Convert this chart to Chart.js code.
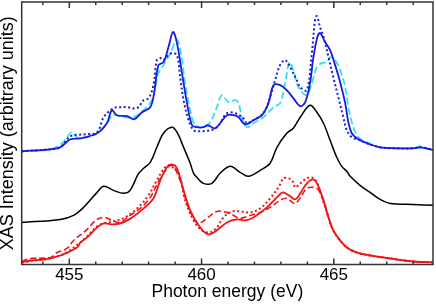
<!DOCTYPE html>
<html>
<head>
<meta charset="utf-8">
<script src="https://cdn.jsdelivr.net/npm/chart.js@4"></script>
<style>
  html, body { margin: 0; padding: 0; background: #fff; }
  #xasChart { display: block; }
</style>
</head>
<body>
<canvas id="xasChart" width="436" height="304"></canvas>
<script>
// photon energy (eV) and intensity (arb. units, offset per spectrum)
const blueSolidE = [453.2, 454.28, 454.66, 455.04, 455.42, 456.05, 456.42, 456.61, 456.8, 457.18, 457.46, 457.75, 458.06, 458.2, 458.37, 458.56, 458.75, 458.92, 459.07, 459.26, 459.45, 459.64, 459.82, 460.07, 460.22, 460.39, 460.52, 460.7, 460.96, 461.21, 461.4, 461.58, 461.71, 461.96, 462.28, 462.53, 462.72, 462.97, 463.22, 463.47, 463.73, 463.92, 464.1, 464.23, 464.38, 464.48, 464.67, 464.86, 465.05, 465.24, 465.43, 465.55, 465.68, 465.87, 466.25, 466.75, 467.38, 468.0, 468.26, 468.5, 468.8];
const blueSolidI = [113, 115, 117, 125, 126, 131, 141, 154, 149, 148, 145, 152, 157, 170, 199, 202, 217, 232, 221, 191, 161, 139, 137, 137, 139, 137, 136, 141, 149, 149, 147, 141, 140, 144, 149, 161, 179, 179, 174, 166, 158, 162, 181, 207, 227, 231, 222, 214, 199, 182, 161, 142, 131, 126, 121, 117, 116, 116, 117, 116, 114];

const blueDotE = [453.2, 454.28, 454.66, 455.04, 455.6, 456.05, 456.3, 456.67, 456.93, 457.18, 457.56, 457.81, 458.0, 458.18, 458.31, 458.44, 458.56, 458.75, 458.88, 459.07, 459.19, 459.32, 459.51, 459.7, 459.95, 460.33, 460.52, 460.7, 460.96, 461.27, 461.58, 461.71, 461.96, 462.34, 462.59, 462.78, 462.97, 463.16, 463.35, 463.6, 463.73, 463.98, 464.17, 464.29, 464.36, 464.48, 464.61, 464.8, 464.98, 465.17, 465.36, 465.49, 465.68, 465.99, 466.25, 466.75, 467.38, 468.0, 468.26, 468.5, 468.8];
const blueDotI = [113, 115, 117, 128, 130, 132, 147, 156, 157, 157, 156, 164, 166, 179, 204, 206, 204, 209, 211, 209, 187, 164, 144, 134, 133, 134, 136, 141, 151, 151, 146, 141, 144, 151, 167, 184, 199, 204, 197, 184, 177, 174, 211, 244, 248, 237, 227, 207, 187, 167, 147, 134, 127, 124, 121, 117, 116, 116, 117, 116, 114];

const cyanDashE = [453.2, 454.28, 454.78, 455.08, 455.29, 455.67, 456.05, 456.42, 456.67, 457.05, 457.43, 457.81, 458.12, 458.25, 458.37, 458.56, 458.82, 459.07, 459.22, 459.38, 459.57, 459.76, 460.07, 460.33, 460.58, 460.77, 461.02, 461.27, 461.4, 461.52, 461.71, 461.96, 462.34, 462.72, 462.97, 463.16, 463.32, 463.47, 463.6, 463.73, 463.98, 464.17, 464.36, 464.55, 464.74, 464.86, 465.05, 465.24, 465.43, 465.55, 465.74, 465.93, 466.25, 466.75, 467.38, 468.0, 468.26, 468.5, 468.8];
const cyanDashI = [113, 115, 122, 132, 127, 127, 131, 141, 149, 147, 147, 154, 164, 177, 191, 199, 211, 224, 211, 181, 154, 139, 137, 142, 157, 169, 162, 164, 161, 147, 137, 141, 147, 157, 161, 181, 202, 194, 181, 174, 169, 181, 197, 201, 202, 207, 204, 194, 177, 157, 137, 127, 122, 117, 116, 116, 118, 116, 114];

const blackE = [453.2, 454.66, 455.16, 455.54, 456.05, 456.3, 456.67, 457.05, 457.3, 457.6, 457.81, 458.06, 458.31, 458.56, 458.88, 459.07, 459.32, 459.57, 459.7, 459.82, 460.07, 460.39, 460.7, 461.08, 461.46, 461.77, 462.22, 462.59, 462.85, 463.22, 463.47, 463.73, 464.1, 464.36, 464.61, 464.86, 465.11, 465.3, 465.49, 465.62, 465.99, 466.37, 466.75, 467.13, 468.01, 468.8];
const blackI = [42, 45, 49, 57, 72, 78, 74, 71, 74, 90, 96, 102, 117, 131, 137, 132, 117, 101, 91, 87, 81, 81, 91, 98, 92, 88, 94, 101, 117, 131, 136, 147, 159, 152, 141, 124, 107, 98, 93, 88, 79, 72, 65, 61, 60, 59];

const redSolidE = [453.2, 453.53, 454.03, 454.66, 455.29, 455.42, 455.67, 456.05, 456.3, 456.67, 457.05, 457.43, 457.81, 458.18, 458.44, 458.69, 458.88, 459.07, 459.32, 459.57, 459.95, 460.26, 460.52, 460.96, 461.34, 461.65, 461.96, 462.47, 462.85, 463.07, 463.3, 463.54, 463.73, 463.98, 464.23, 464.4, 464.61, 464.8, 464.98, 465.24, 465.49, 465.87, 466.37, 467.13, 468.01, 468.8];
const redSolidI = [2, 4, 5, 9, 17, 22, 27, 37, 41, 40, 42, 48, 56, 66, 84, 97, 100, 96, 74, 54, 37, 30, 33, 42, 45, 44, 47, 57, 67, 72, 69, 65, 71, 81, 85, 79, 64, 47, 34, 24, 17, 12, 9, 6, 3, 2];

const redDashE = [453.2, 453.53, 454.28, 454.54, 454.91, 455.16, 455.54, 455.67, 456.05, 456.36, 456.61, 456.93, 457.3, 457.68, 458.06, 458.44, 458.86, 459.19, 459.45, 459.7, 459.88, 460.2, 460.58, 460.96, 461.21, 461.46, 461.84, 462.22, 462.59, 462.97, 463.22, 463.54, 463.98, 464.23, 464.4, 464.61, 464.8, 464.98, 465.24, 465.49, 465.87, 466.37, 467.13, 468.01, 468.8];
const redDashI = [3, 6, 7, 12, 16, 24, 32, 35, 45, 47, 44, 42, 49, 56, 67, 86, 99, 84, 61, 46, 41, 46, 53, 52, 49, 46, 49, 52, 57, 64, 66, 61, 76, 77, 75, 64, 47, 34, 24, 17, 12, 9, 6, 3, 2];

const redDotE = [453.2, 454.66, 455.42, 455.67, 456.05, 456.3, 456.8, 457.18, 457.56, 457.94, 458.31, 458.56, 458.75, 459.13, 459.38, 459.7, 460.01, 460.33, 460.58, 460.83, 461.15, 461.46, 461.84, 462.22, 462.59, 462.91, 463.1, 463.3, 463.47, 463.54, 463.73, 463.98, 464.17, 464.36, 464.55, 464.8, 464.98, 465.24, 465.49, 465.87, 466.37, 467.13, 468.01, 468.8];
const redDotI = [2, 9, 22, 28, 38, 41, 44, 48, 56, 67, 84, 95, 99, 91, 64, 44, 34, 32, 37, 47, 53, 53, 52, 56, 66, 77, 86, 86, 82, 77, 81, 86, 87, 82, 67, 47, 34, 24, 17, 12, 9, 6, 3, 2];

const energyMin = 453.2;
const energyMax = 468.75;
const majorStep = 5;

const pairs = (e, i) => e.map((x, k) => ({ x, y: i[k] }));

// box round the plot + inward tick marks top and bottom
const frameAndTicks = {
  id: 'frameAndTicks',
  afterDatasetsDraw(chart, args, opts) {
    const { ctx, chartArea: { left, top, right, bottom }, scales: { x } } = chart;
    ctx.save();
    ctx.strokeStyle = opts.color;
    ctx.lineWidth = opts.width;
    x.ticks.forEach((t) => {
      if (!Number.isInteger(t.value)) return;
      const px = x.getPixelForValue(t.value);
      const len = t.value % majorStep === 0 ? opts.major : opts.minor;
      ctx.beginPath();
      ctx.moveTo(px, bottom);
      ctx.lineTo(px, bottom - len);
      ctx.moveTo(px, top);
      ctx.lineTo(px, top + len);
      ctx.stroke();
    });
    ctx.strokeRect(left, top, right - left, bottom - top);
    ctx.restore();
  },
};

const font = 'Liberation Sans, Arial, Helvetica, sans-serif';
const blue = '#1a1ae0';
const cyan = '#2fe3f5';
const red = '#f01414';

new Chart(document.getElementById('xasChart').getContext('2d'), {
  type: 'line',
  data: {
    datasets: [
      { data: pairs(blueSolidE, blueSolidI), borderColor: blue, borderWidth: 1.8 },
      { data: pairs(blueDotE, blueDotI), borderColor: blue, borderWidth: 2, borderDash: [2, 2.5] },
      { data: pairs(cyanDashE, cyanDashI), borderColor: cyan, borderWidth: 1.8, borderDash: [7, 3] },
      { data: pairs(blackE, blackI), borderColor: '#000', borderWidth: 1.5 },
      { data: pairs(redSolidE, redSolidI), borderColor: red, borderWidth: 1.8 },
      { data: pairs(redDotE, redDotI), borderColor: red, borderWidth: 2, borderDash: [2, 2.5] },
      { data: pairs(redDashE, redDashI), borderColor: red, borderWidth: 1.6, borderDash: [6, 3] },
    ],
  },
  options: {
    responsive: false,
    animation: false,
    devicePixelRatio: 1,
    layout: { padding: { top: 2, right: 3, bottom: 0, left: 0 } },
    elements: {
      point: { radius: 0 },
      line: { tension: 0.35, fill: false },
    },
    plugins: {
      legend: { display: false },
      tooltip: { enabled: false },
      frameAndTicks: { color: '#333', width: 1.5, major: 6, minor: 3 },
    },
    scales: {
      x: {
        type: 'linear',
        min: energyMin,
        max: energyMax,
        afterFit: (s) => { s.height = 39.5; },
        grid: { display: false, drawTicks: false },
        border: { display: false },
        ticks: {
          stepSize: 1,
          includeBounds: false,
          autoSkip: false,
          maxRotation: 0,
          padding: 1,
          color: '#000',
          font: { family: font, size: 17 },
          callback: (v) => (v % majorStep === 0 ? v : ''),
        },
        title: {
          display: true,
          text: 'Photon energy (eV)',
          color: '#000',
          font: { family: font, size: 17.5 },
          padding: { top: 0, bottom: 1.8 },
        },
      },
      y: {
        min: 0,
        max: 262,
        afterFit: (s) => { s.width = 21.7; },
        grid: { display: false, drawTicks: false },
        border: { display: false },
        ticks: { display: false },
        title: {
          display: true,
          text: 'XAS Intensity (arbitrary units)',
          color: '#000',
          font: { family: font, size: 18 },
          padding: { top: -2.5, bottom: 2.5 },
        },
      },
    },
  },
  plugins: [frameAndTicks],
});
</script>
</body>
</html>
